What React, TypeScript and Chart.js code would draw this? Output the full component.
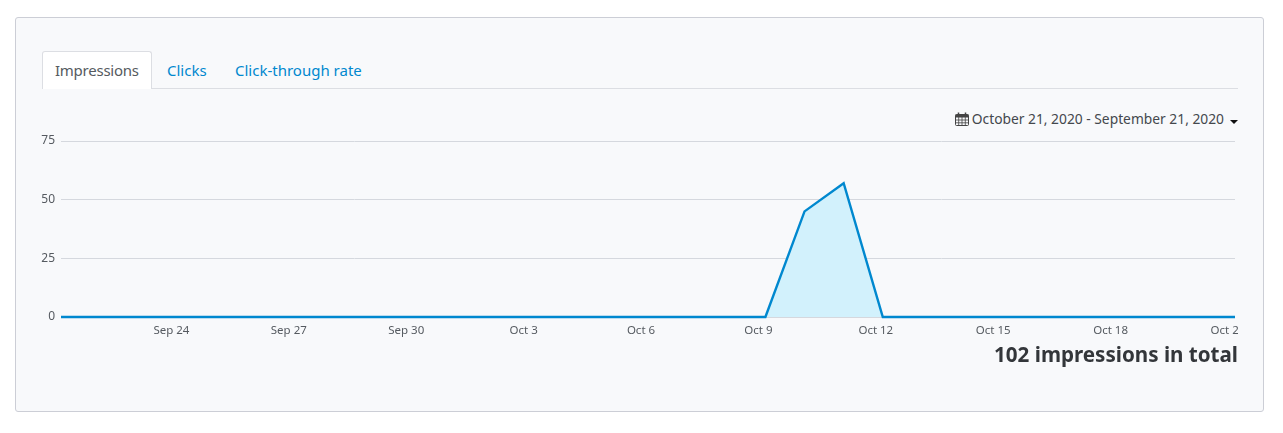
import React, { useEffect, useRef } from "react";
import { Chart, registerables } from "chart.js";

Chart.register(...registerables);

const categories = [
  "Sep 21","Sep 22","Sep 23","Sep 24","Sep 25","Sep 26","Sep 27","Sep 28","Sep 29","Sep 30",
  "Oct 1","Oct 2","Oct 3","Oct 4","Oct 5","Oct 6","Oct 7","Oct 8","Oct 9","Oct 10",
  "Oct 11","Oct 12","Oct 13","Oct 14","Oct 15","Oct 16","Oct 17","Oct 18","Oct 19","Oct 20","Oct 21",
];
const impressions = [
  0,0,0,0,0,0,0,0,0,0,
  0,0,0,0,0,0,0,0,0,45,
  57,0,0,0,0,0,0,0,0,0,0,
];
const shownTicks = ["Sep 24","Sep 27","Sep 30","Oct 3","Oct 6","Oct 9","Oct 12","Oct 15","Oct 18","Oct 21"];
const tabs = ["Impressions", "Clicks", "Click-through rate"];
const dateRange = "October 21, 2020 - September 21, 2020";
const totalText = "102 impressions in total";

const FONT = "'Noto Sans', sans-serif";
const CANVAS = { left: 16, top: 130, width: 1222, height: 215 };

export default function App() {
  const ref = useRef<HTMLCanvasElement | null>(null);

  useEffect(() => {
    const chart = new Chart(ref.current!, {
      type: "line",
      data: {
        labels: categories,
        datasets: [
          {
            data: impressions,
            borderColor: "#0088cf",
            borderWidth: 2.4,
            backgroundColor: "#d2f1fc",
            fill: "origin",
            pointRadius: 0,
            tension: 0,
            clip: false,
          },
        ],
      },
      options: {
        animation: false,
        responsive: false,
        devicePixelRatio: 1,
        layout: { padding: { top: 11, right: 3, left: 0, bottom: 0 } },
        plugins: { legend: { display: false }, tooltip: { enabled: false } },
        scales: {
          x: {
            offset: false,
            border: { display: false },
            grid: { display: false, drawTicks: false },
            ticks: {
              autoSkip: false,
              maxRotation: 0,
              minRotation: 0,
              padding: 7,
              labelOffset: -7,
              color: "#555a60",
              font: { family: FONT, size: 11.5 },
              callback: (_v: any, i: number) =>
                shownTicks.includes(categories[i]) ? categories[i] : "",
            },
            afterFit: (s: any) => {
              s.paddingLeft = 0;
              s.paddingRight = 0;
              s.height = 28;
            },
          },
          y: {
            min: 0,
            max: 75,
            border: { display: false },
            grid: { color: "#d5d8de", lineWidth: 1, drawTicks: false },
            ticks: {
              stepSize: 25,
              padding: 6,
              color: "#555a60",
              font: { family: FONT, size: 12 },
            },
            afterFit: (s: any) => {
              s.width = 45;
              s.paddingTop = 0;
              s.paddingBottom = 0;
            },
          },
        },
      },
    } as any);
    return () => chart.destroy();
  }, []);

  return (
    <div style={{ position: "absolute", left: 0, top: 0, width: 1283, height: 433, background: "#fff", fontFamily: FONT, overflow: "hidden" }}>
      <div style={{ position: "absolute", left: 15, top: 17, width: 1247, height: 393, background: "#f8f9fb", border: "1px solid #ccced6", borderRadius: 3 }} />
      <div style={{ position: "absolute", left: 42, top: 88, width: 1196, height: 1, background: "#dcdee3" }} />
      <div style={{ position: "absolute", left: 42, top: 51, width: 108, height: 37, background: "#fff", border: "1px solid #dcdee3", borderBottom: "none", borderRadius: "3px 3px 0 0" }} />
      {tabs.map((t, i) => (
        <span key={t} style={{ position: "absolute", left: [55, 167, 235][i], top: 60, fontSize: 15, letterSpacing: i === 0 ? -0.25 : 0, lineHeight: "21px", whiteSpace: "nowrap", color: i === 0 ? "#555a60" : "#0088cf" }}>{t}</span>
      ))}
      <svg style={{ position: "absolute", left: 955, top: 112 }} width="14" height="14" viewBox="0 0 14 14">
        <rect x="0.5" y="2.5" width="13" height="11" rx="1" fill="none" stroke="#444" />
        <rect x="0.5" y="2.5" width="13" height="3" fill="#444" />
        <path d="M3.5 0.5V3M10.5 0.5V3" stroke="#444" strokeWidth="1.5" />
        <path d="M0.5 8H13.5M0.5 10.8H13.5M3.7 5V13.5M7 5V13.5M10.3 5V13.5" stroke="#444" strokeWidth="0.8" />
      </svg>
      <span style={{ position: "absolute", right: 1283 - 1224, top: 109, fontSize: 13.8, lineHeight: "20px", whiteSpace: "nowrap", color: "#44484d" }}>{dateRange}</span>
      <div style={{ position: "absolute", left: 1230, top: 120, width: 0, height: 0, borderLeft: "4px solid transparent", borderRight: "4px solid transparent", borderTop: "4px solid #111" }} />
      <canvas
        ref={ref}
        width={CANVAS.width}
        height={CANVAS.height}
        style={{ position: "absolute", left: CANVAS.left, top: CANVAS.top, width: CANVAS.width, height: CANVAS.height }}
      />
      <span style={{ position: "absolute", right: 1283 - 1238, top: 341, fontSize: 20.6, fontWeight: 700, lineHeight: "26px", whiteSpace: "nowrap", color: "#33363a" }}>{totalText}</span>
    </div>
  );
}
